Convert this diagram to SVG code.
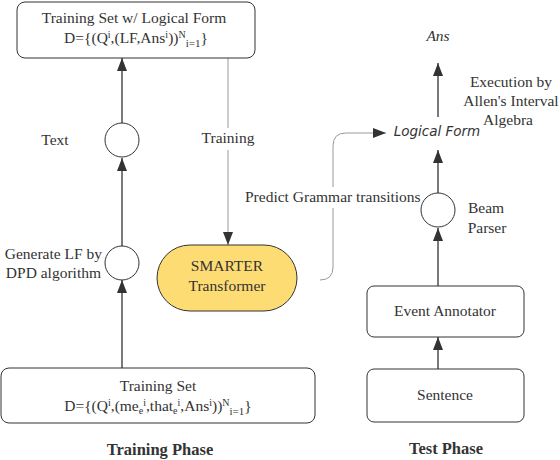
<svg xmlns="http://www.w3.org/2000/svg" width="560" height="460" viewBox="0 0 560 460">
<defs>
<style>
.t{font-family:"Liberation Serif","Times New Roman",serif;font-size:15.5px;fill:#333;}
.b{font-weight:bold;font-size:16.5px;}
.box{fill:#fff;stroke:#333;stroke-width:1;}
.c{fill:#fff;stroke:#333;stroke-width:1;}
.ln{fill:none;stroke:#333;stroke-width:1.3;}
.gl{fill:none;stroke:#999;stroke-width:1;}
</style>
<marker id="ah" markerUnits="userSpaceOnUse" markerWidth="14" markerHeight="12" refX="13" refY="5" orient="auto">
<path d="M0,0 L13,5 L0,10 z" fill="#333"/>
</marker>
</defs>
<rect width="560" height="460" fill="#fff"/>
<g id="connectors">
<line class="ln" x1="122" y1="368" x2="122" y2="280" marker-end="url(#ah)"/>
<line class="ln" x1="122" y1="246" x2="122" y2="158" marker-end="url(#ah)"/>
<line class="ln" x1="122" y1="123" x2="122" y2="58" marker-end="url(#ah)"/>
<line class="gl" x1="228" y1="58" x2="228" y2="245" marker-end="url(#ah)"/>
<path class="gl" d="M320,280 Q333,280 333,267 V146 Q333,133 346,133 H386" marker-end="url(#ah)"/>
<line class="ln" x1="438" y1="193" x2="438" y2="150" marker-end="url(#ah)"/>
<line class="ln" x1="438" y1="117" x2="438" y2="63" marker-end="url(#ah)"/>
<line class="ln" x1="438" y1="286" x2="438" y2="228" marker-end="url(#ah)"/>
<line class="ln" x1="438" y1="369" x2="438" y2="337" marker-end="url(#ah)"/>
<rect x="200" y="128" width="56" height="22" fill="#fff"/>
<text class="t" x="228" y="143" text-anchor="middle">Training</text>
<rect x="243" y="187" width="178" height="21" fill="#fff"/>
<text class="t" x="245" y="202">Predict Grammar transitions</text>
</g>
<g id="top-box">
<rect class="box" x="17" y="2" width="238" height="56" rx="8"/>
<text class="t" x="134" y="23" text-anchor="middle">Training Set w/ Logical Form</text>
<text class="t" x="136" y="43" text-anchor="middle">D={(Q<tspan dy="-5" font-size="10">i</tspan><tspan dy="5">,(LF,Ans</tspan><tspan dy="-5" font-size="10">i</tspan><tspan dy="5">))</tspan><tspan dy="-5" font-size="10">N</tspan><tspan dy="9" font-size="11">i=1</tspan><tspan dy="-4">}</tspan></text>
</g>
<g id="text-node">
<circle class="c" cx="122" cy="140" r="17"/>
<text class="t" x="55" y="145" text-anchor="middle">Text</text>
</g>
<g id="dpd-node">
<circle class="c" cx="122" cy="263" r="17"/>
<text class="t" x="102" y="259" text-anchor="end">Generate LF by</text>
<text class="t" x="101" y="278" text-anchor="end">DPD algorithm</text>
</g>
<g id="smarter">
<rect x="157" y="245" width="140" height="66" rx="33" fill="#FEDC74" stroke="#333" stroke-width="1"/>
<text class="t" x="227" y="271" text-anchor="middle">SMARTER</text>
<text class="t" x="227" y="291" text-anchor="middle">Transformer</text>
</g>
<g id="bottom-box">
<rect class="box" x="1" y="368" width="314" height="55" rx="8"/>
<text class="t" x="158" y="391" text-anchor="middle">Training Set</text>
<text class="t" x="158" y="411" text-anchor="middle">D={(Q<tspan dy="-5" font-size="10">i</tspan><tspan dy="5">,(me</tspan><tspan dy="3" font-size="10">e</tspan><tspan dy="-8" font-size="10">i</tspan><tspan dy="5">,that</tspan><tspan dy="3" font-size="10">e</tspan><tspan dy="-8" font-size="10">i</tspan><tspan dy="5">,Ans</tspan><tspan dy="-5" font-size="10">i</tspan><tspan dy="5">))</tspan><tspan dy="-5" font-size="10">N</tspan><tspan dy="9" font-size="11">i=1</tspan><tspan dy="-4">}</tspan></text>
<text class="t b" x="160" y="455" text-anchor="middle">Training Phase</text>
</g>
<g id="ans">
<text class="t" x="438" y="41" text-anchor="middle" font-style="italic">Ans</text>
<text class="t" x="511" y="87" text-anchor="middle">Execution by</text>
<text class="t" x="511" y="106" text-anchor="middle">Allen's Interval</text>
<text class="t" x="508" y="125" text-anchor="middle">Algebra</text>
</g>
<g id="logical-form">
<text x="437" y="136" text-anchor="middle" font-family="'DejaVu Sans','Liberation Sans',sans-serif" font-size="13.5" font-style="italic" fill="#333">Logical Form</text>
</g>
<g id="beam-parser">
<circle class="c" cx="438" cy="210" r="17"/>
<text class="t" x="486" y="213" text-anchor="middle">Beam</text>
<text class="t" x="487" y="233" text-anchor="middle">Parser</text>
</g>
<g id="event-annotator">
<rect class="box" x="367" y="286" width="157" height="51" rx="7"/>
<text class="t" x="445" y="316" text-anchor="middle">Event Annotator</text>
</g>
<g id="sentence">
<rect class="box" x="367" y="369" width="157" height="53" rx="7"/>
<text class="t" x="445" y="400" text-anchor="middle">Sentence</text>
<text class="t b" x="446" y="454" text-anchor="middle">Test Phase</text>
</g>
</svg>
